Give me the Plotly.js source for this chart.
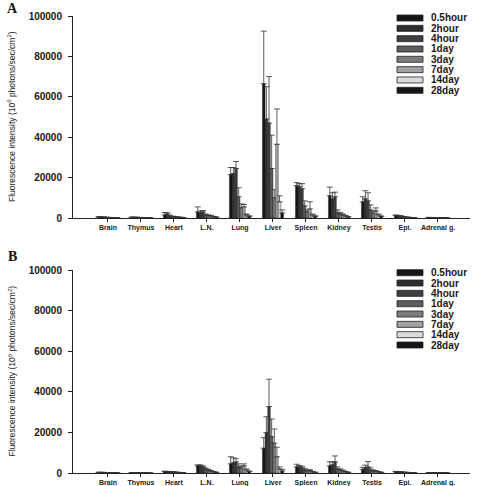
<!DOCTYPE html>
<html>
<head>
<meta charset="utf-8">
<script src="https://cdn.plot.ly/plotly-3.0.1.min.js"></script>
<style>html,body{margin:0;padding:0;background:#fff;}#chart{width:478px;height:486px;}</style>
</head>
<body>
<div id="chart"></div>
<script>
// ---------- data ----------
var categories = ['Brain','Thymus','Heart','L.N.','Lung','Liver','Spleen','Kidney','Testis','Epi.','Adrenal g.'];
var seriesNames = ['0.5hour','2hour','4hour','1day','3day','7day','14day','28day'];
var seriesColors = ['#151515','#2e2e2e','#3e3e3e','#5c5c5c','#7c7c7c','#a2a2a2','#dadada','#151515'];
var yTicks = [0, 20000, 40000, 60000, 80000, 100000];

// Panel A means
var A_05hour = [500, 350, 1500, 3000, 21500, 66500, 16000, 11000, 8000, 1200, 250];
var A_2hour  = [450, 300, 2000, 2500, 22000, 49000, 15500, 9500, 9500, 1000, 200];
var A_4hour  = [400, 300, 1000, 3000, 24500, 47000, 14500, 10500, 8500, 900, 200];
var A_1day   = [300, 250, 700, 1500, 10500, 24500, 6000, 2500, 4000, 600, 150];
var A_3day   = [250, 200, 500, 1200, 5000, 10000, 3000, 2000, 2500, 400, 100];
var A_7day   = [200, 150, 400, 1000, 5500, 36500, 4500, 1500, 3500, 300, 100];
var A_14day  = [150, 100, 300, 600, 1500, 8000, 1500, 1000, 1500, 200, 80];
var A_28day  = [100, 80, 200, 400, 800, 2500, 800, 500, 800, 150, 50];
// Panel A errors (upper)
var errA_05hour = [150, 100, 1200, 2500, 3500, 26000, 1500, 4300, 2500, 300, 80];
var errA_2hour  = [100, 80, 600, 1000, 3000, 16000, 1500, 3000, 4000, 300, 50];
var errA_4hour  = [100, 80, 400, 700, 3500, 23000, 2500, 2300, 4000, 200, 50];
var errA_1day   = [80, 50, 200, 500, 4500, 16500, 2500, 1500, 2500, 100, 30];
var errA_3day   = [50, 50, 150, 300, 2000, 4000, 1000, 800, 1000, 100, 30];
var errA_7day   = [50, 30, 100, 300, 1200, 17500, 3500, 500, 1500, 50, 20];
var errA_14day  = [30, 30, 80, 200, 500, 3000, 500, 300, 500, 50, 20];
var errA_28day  = [30, 20, 50, 100, 300, 1500, 300, 200, 200, 30, 10];

// Panel B means
var B_05hour = [300, 200, 700, 3500, 4500, 12200, 3000, 3500, 1800, 600, 150];
var B_2hour  = [280, 180, 650, 3500, 5000, 19900, 3000, 4000, 2500, 500, 120];
var B_4hour  = [250, 150, 600, 3000, 5500, 32700, 2500, 5500, 3000, 450, 100];
var B_1day   = [200, 120, 500, 2000, 3000, 17900, 1500, 2000, 1500, 350, 80];
var B_3day   = [150, 100, 400, 1500, 2500, 14700, 1000, 1500, 1000, 300, 70];
var B_7day   = [120, 80, 300, 1000, 3500, 8000, 1200, 1000, 800, 200, 60];
var B_14day  = [100, 60, 200, 600, 1500, 2000, 600, 600, 500, 150, 50];
var B_28day  = [80, 50, 150, 300, 700, 1000, 300, 300, 300, 100, 40];
// Panel B errors (upper)
var errB_05hour = [80, 50, 200, 500, 3500, 5200, 1300, 2000, 1000, 200, 40];
var errB_2hour  = [60, 40, 150, 500, 2500, 7800, 700, 1500, 1400, 150, 30];
var errB_4hour  = [50, 40, 100, 500, 1500, 13500, 800, 2900, 2600, 100, 30];
var errB_1day   = [40, 30, 80, 500, 1500, 8700, 800, 1000, 1000, 80, 20];
var errB_3day   = [30, 30, 60, 300, 1000, 7000, 500, 500, 500, 60, 20];
var errB_7day   = [30, 20, 50, 200, 1000, 4700, 400, 400, 400, 50, 20];
var errB_14day  = [20, 20, 40, 100, 500, 1000, 200, 200, 200, 30, 10];
var errB_28day  = [20, 10, 30, 100, 300, 800, 100, 100, 100, 20, 10];

var valuesA = [A_05hour, A_2hour, A_4hour, A_1day, A_3day, A_7day, A_14day, A_28day];
var errorsA = [errA_05hour, errA_2hour, errA_4hour, errA_1day, errA_3day, errA_7day, errA_14day, errA_28day];
var valuesB = [B_05hour, B_2hour, B_4hour, B_1day, B_3day, B_7day, B_14day, B_28day];
var errorsB = [errB_05hour, errB_2hour, errB_4hour, errB_1day, errB_3day, errB_7day, errB_14day, errB_28day];

// ---------- layout helpers ----------
var W = 478, H = 486;
function px(x){ return x / W; }
function py(y){ return 1 - y / H; }

var traces = [];
function addPanel(values, errors, xa, ya){
  for (var i = 0; i < seriesNames.length; i++){
    traces.push({
      type: 'bar', name: seriesNames[i], x: categories, y: values[i],
      xaxis: xa, yaxis: ya, showlegend: false,
      marker: {color: seriesColors[i], line: {color: '#1a1a1a', width: 0.4}},
      error_y: {type: 'data', symmetric: false, array: errors[i],
                arrayminus: values[i].map(function(){return 0;}),
                color: '#333', thickness: 0.8, width: 3}
    });
  }
}
addPanel(valuesA, errorsA, 'x', 'y');
addPanel(valuesB, errorsB, 'x2', 'y2');

var tickFontY = {family: 'Liberation Sans, Arial, sans-serif', size: 10, color: '#1a1a1a', weight: 'bold'};
var tickFontX = {family: 'Liberation Sans, Arial, sans-serif', size: 7, color: '#1a1a1a', weight: 'bold'};

function xAxis(anchor){
  return {anchor: anchor, domain: [px(73), px(470)], range: [-1.06, 10.97],
    type: 'category', showline: true, linecolor: '#222', linewidth: 1,
    ticks: 'outside', ticklen: 3, tickcolor: '#222', tickfont: tickFontX,
    showgrid: false, zeroline: false, automargin: false, fixedrange: true};
}
function yAxis(anchor, top, bottom){
  return {anchor: anchor, domain: [py(bottom), py(top)], range: [0, 100000],
    tickvals: yTicks, tickformat: 'd', showline: true, linecolor: '#222', linewidth: 1,
    ticks: 'outside', ticklen: 4, tickcolor: '#222', tickfont: tickFontY,
    ticklabelstandoff: 4,
    showgrid: false, zeroline: false, automargin: false, fixedrange: true};
}

var shapes = [], annotations = [];
var yTitle = 'Fluorescence intensity (10<sup>6</sup> photons/sec/cm<sup>2</sup>)';
function addDecor(letter, letterY, plotTop, plotBottom, legendTop){
  annotations.push({text: letter, xref: 'paper', yref: 'paper', x: px(12), y: py(letterY),
    xanchor: 'center', yanchor: 'middle', showarrow: false,
    font: {family: 'Liberation Serif, Times New Roman, serif', size: 14, color: '#111', weight: 'bold'}});
  annotations.push({text: yTitle, xref: 'paper', yref: 'paper', x: px(12), y: py((plotTop + plotBottom) / 2),
    xanchor: 'center', yanchor: 'middle', textangle: -90, showarrow: false,
    font: {family: 'Liberation Sans Narrow, Arial Narrow, Liberation Sans, Arial, sans-serif', size: 8.5, color: '#222'}});
  for (var i = 0; i < seriesNames.length; i++){
    var cy = legendTop + i * 10.33;
    shapes.push({type: 'rect', xref: 'paper', yref: 'paper',
      x0: px(397), x1: px(423), y0: py(cy + 3), y1: py(cy - 3),
      fillcolor: seriesColors[i], line: {color: '#222', width: 0.8}});
    annotations.push({text: seriesNames[i], xref: 'paper', yref: 'paper', x: px(429), y: py(cy),
      xanchor: 'left', yanchor: 'middle', showarrow: false,
      font: {family: 'Liberation Sans, Arial, sans-serif', size: 10, color: '#1a1a1a', weight: 'bold'}});
  }
}
addDecor('A', 9, 16, 218, 18);
addDecor('B', 256, 270, 473, 272.7);

var layout = {
  width: W, height: H, margin: {l: 0, r: 0, t: 0, b: 0},
  paper_bgcolor: '#fff', plot_bgcolor: '#fff',
  barmode: 'group', bargap: 0.36, bargroupgap: 0,
  showlegend: false,
  xaxis: xAxis('y'), yaxis: yAxis('x', 16, 218),
  xaxis2: xAxis('y2'), yaxis2: yAxis('x2', 270, 473),
  shapes: shapes, annotations: annotations
};

Plotly.newPlot('chart', traces, layout, {displayModeBar: false, staticPlot: true});
</script>
</body>
</html>
